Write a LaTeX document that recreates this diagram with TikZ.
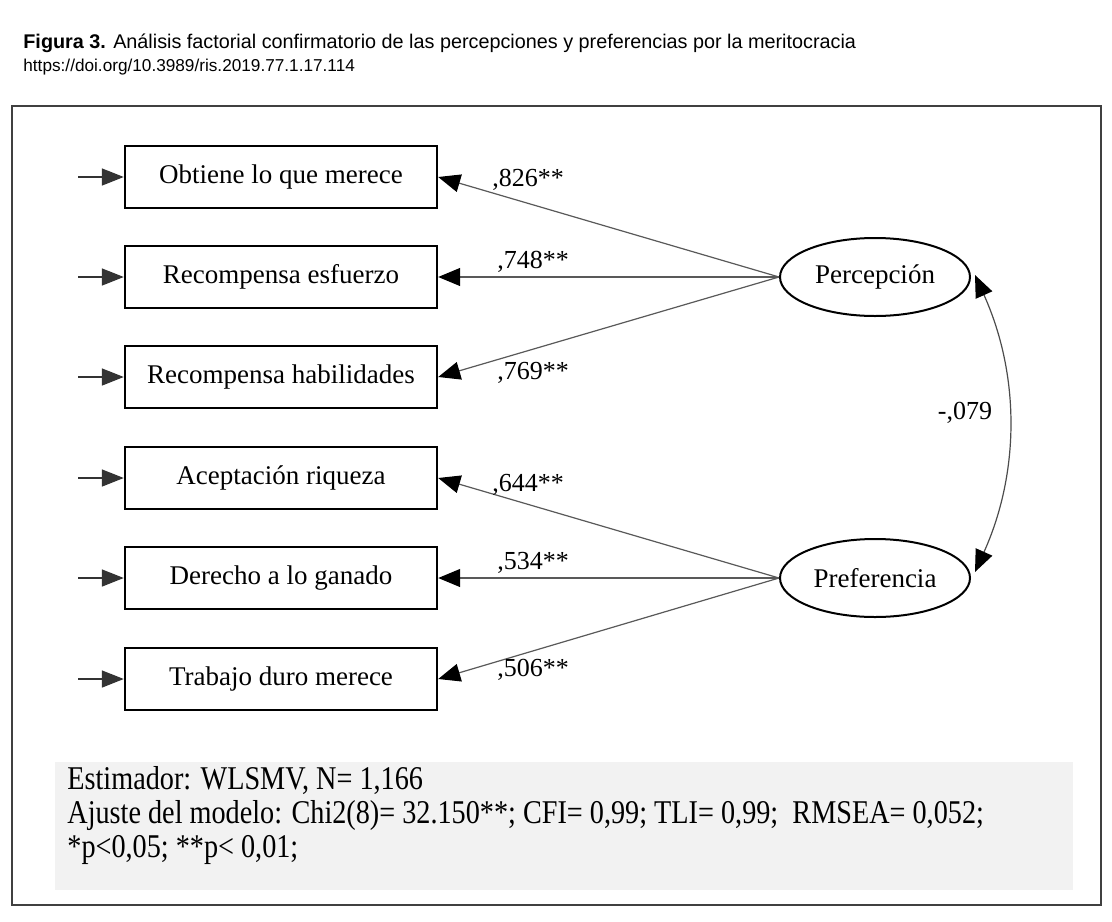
\documentclass[tikz,border=0pt]{standalone}
\usepackage{fontspec}
\setmainfont{Liberation Serif}
\newfontfamily\capfont{Liberation Sans}
\newfontfamily\notefont[FakeStretch=0.85]{Liberation Serif}
\usetikzlibrary{arrows.meta,positioning,calc,shapes.geometric}

\begin{document}
\begin{tikzpicture}[x=0.5pt,y=-0.5pt,
    item/.style={draw, line width=1.2pt, minimum width=156pt, minimum height=31pt,
      inner sep=0pt, font=\fontsize{13.5}{16}\selectfont},
    factor/.style={draw, ellipse, line width=1pt, minimum width=95pt, minimum height=39pt,
      inner sep=0pt, font=\fontsize{13.5}{16}\selectfont},
    load/.style={black!65, line width=0.6pt, -{Triangle[length=11pt,width=9pt,fill=black,color=black]}},
    err/.style={black!80, line width=0.8pt, -{Triangle[length=11pt,width=8.5pt]}},
    cov/.style={black!70, line width=0.6pt,
      {Triangle[length=11pt,width=9pt,fill=black,color=black]}-{Triangle[length=11pt,width=9pt,fill=black,color=black]}},
    coef/.style={font=\fontsize{13}{15}\selectfont, inner sep=0pt}
  ]
  \useasboundingbox[fill=white] (0,0) rectangle (1112,921);

  % Titel
  \node[anchor=west, inner sep=0pt, font=\capfont\fontsize{9.9}{11}\selectfont] (titel) at (23,43)
    {\textbf{Figura 3.} Análisis factorial confirmatorio de las percepciones y preferencias por la meritocracia};
  \node[anchor=west, inner sep=0pt, font=\capfont\fontsize{8.6}{10}\selectfont] (doi) at (23,67)
    {https://doi.org/10.3989/ris.2019.77.1.17.114};

  % Rahmen
  \draw[black!75, line width=0.8pt] (12,106) rectangle (1101,905);

  % Indikatoren
  \node[item] (i1) at (281,177) {Obtiene lo que merece};
  \node[item] (i2) at (281,277) {Recompensa esfuerzo};
  \node[item] (i3) at (281,377) {Recompensa habilidades};
  \node[item] (i4) at (281,478) {Aceptación riqueza};
  \node[item] (i5) at (281,578) {Derecho a lo ganado};
  \node[item] (i6) at (281,679) {Trabajo duro merece};

  % Faktoren
  \node[factor] (perc) at (875,277) {Percepción};
  \node[factor] (pref) at (875,578) {Preferencia};

  % Fehlerterme
  \foreach \i/\y in {1/177,2/277,3/377,4/478,5/578,6/679}{
    \coordinate (e\i) at (78,\y);
    \draw[err] (e\i) -- (i\i.west);
  }

  % Ladungen
  \draw[load] (perc.west) -- (i1.east);
  \draw[load] (perc.west) -- (i2.east);
  \draw[load] (perc.west) -- (i3.east);
  \draw[load] (pref.west) -- (i4.east);
  \draw[load] (pref.west) -- (i5.east);
  \draw[load] (pref.west) -- (i6.east);
  \node[coef] (l1) at (528,180) {,826**};
  \node[coef] (l2) at (533,262) {,748**};
  \node[coef] (l3) at (533,373) {,769**};
  \node[coef] (l4) at (528,485) {,644**};
  \node[coef] (l5) at (533,563) {,534**};
  \node[coef] (l6) at (533,670) {,506**};

  % Korrelation
  \draw[cov] ([shift={(4,-2)}]perc.east) .. controls +(45,100) and +(45,-100) .. ([shift={(4,-6)}]pref.east);
  \node[coef] (r) at (965,413) {-,079};

  % Anmerkung
  \fill[black!5] (55,762) rectangle (1073,890);
  \node[anchor=north west, align=left, inner sep=0pt, font=\notefont\fontsize{16.6}{17}\selectfont] (note) at (67,766)
    {Estimador: WLSMV, N= 1,166\\
     Ajuste del modelo: Chi2(8)= 32.150**; CFI= 0,99; TLI= 0,99;\ \ RMSEA= 0,052;\\
     *p<0,05; **p< 0,01;};
\end{tikzpicture}
\end{document}
